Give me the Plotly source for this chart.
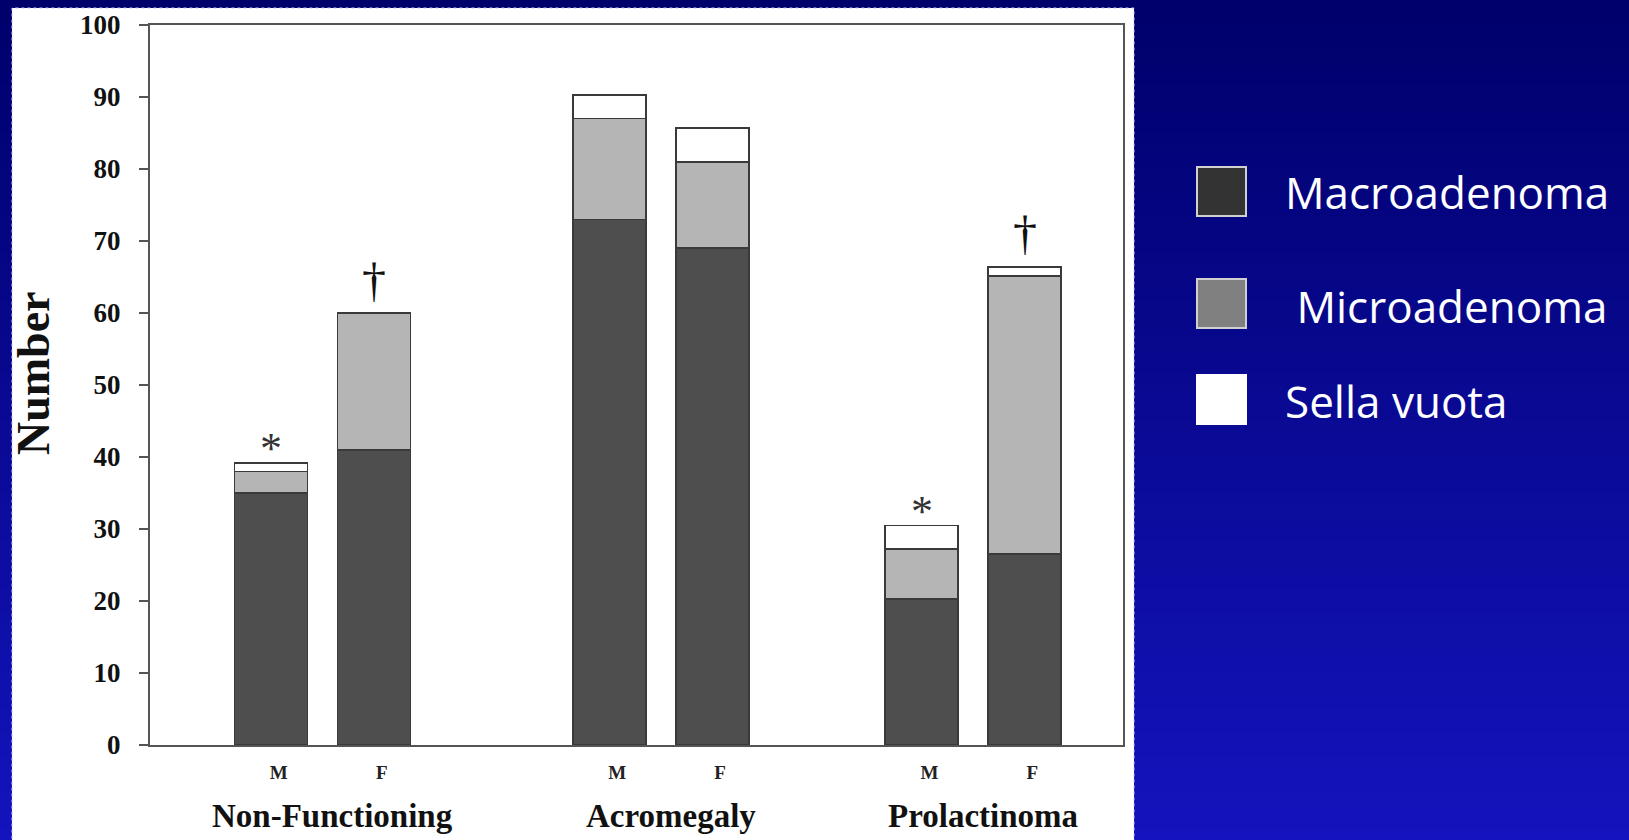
import plotly.graph_objects as go

# ---------------- data ----------------
groups = ["Non-Functioning", "Acromegaly", "Prolactinoma"]
sexes = ["M", "F"]
macro = [35.0, 41.0, 73.0, 69.0, 20.3, 26.5]
micro = [3.0, 19.0, 14.0, 12.0, 6.9, 38.6]
sella = [1.2, 0.0, 3.3, 4.7, 3.3, 1.3]
marks = ["*", "\u2020", "", "", "*", "\u2020"]
y_ticks = [0, 10, 20, 30, 40, 50, 60, 70, 80, 90, 100]
legend_names = ["Macroadenoma", " Microadenoma", "Sella vuota"]

# ---------------- layout helpers ----------------
W, H = 1629, 840
group_centres = [1.773, 5.25, 8.46]
pair_off = 0.529
bar_w = 0.75

xs = []
xlabels = []
for gc in group_centres:
    for k, s in enumerate(sexes):
        xs.append(gc + (2 * k - 1) * pair_off)
        xlabels.append(s)

fill_macro = "#4e4e4e"
fill_micro = "#b5b5b5"
fill_sella = "#ffffff"
edge = "#3a3a3a"

fig = go.Figure()
for vals, col, name in [(macro, fill_macro, "Macroadenoma"),
                        (micro, fill_micro, "Microadenoma"),
                        (sella, fill_sella, "Sella vuota")]:
    fig.add_trace(go.Bar(
        x=xs, y=vals, width=bar_w, name=name,
        marker=dict(color=col, line=dict(color=edge, width=1.6)),
        showlegend=False, hoverinfo="skip"))

# ---------------- background (gradient + white panel) ----------------
shapes = []
n = 70
c0 = (0, 0, 108)
c1 = (20, 20, 190)
for i in range(n):
    t = i / (n - 1)
    r = int(c0[0] + (c1[0] - c0[0]) * t)
    g = int(c0[1] + (c1[1] - c0[1]) * t)
    b = int(c0[2] + (c1[2] - c0[2]) * t)
    shapes.append(dict(type="rect", xref="paper", yref="paper",
                       x0=0, x1=1, y0=1 - (i + 1) / n - 0.002, y1=1 - i / n,
                       fillcolor=f"rgb({r},{g},{b})", line=dict(width=0),
                       layer="below"))
# white panel
shapes.append(dict(type="rect", xref="paper", yref="paper",
                   x0=12 / W, x1=1134 / W, y0=-0.01, y1=1 - 8 / H,
                   fillcolor="white", line=dict(color="#c8c8f0", width=1, dash="dot"),
                   layer="below"))

# ---------------- legend (manual) ----------------
leg_boxes = [(167, 216, "#333333", "#d0d0d0"),
             (279, 328, "#808080", "#d0d0d0"),
             (375, 424, "#ffffff", "#ffffff")]
leg_text_x = [1283, 1283, 1283]
leg_text_y = [192, 306, 401]
annotations = []
for (yt, yb, fc, lc), name, tx, ty in zip(leg_boxes, legend_names, leg_text_x, leg_text_y):
    shapes.append(dict(type="rect", xref="paper", yref="paper",
                       x0=1197 / W, x1=1246 / W, y0=1 - yb / H, y1=1 - yt / H,
                       fillcolor=fc, line=dict(color=lc, width=2)))
    annotations.append(dict(xref="paper", yref="paper", x=tx / W, y=1 - ty / H,
                            text=name.replace(" ", "&nbsp;", 1) if name.startswith(" ") else name,
                            showarrow=False, xanchor="left", yanchor="middle",
                            font=dict(family="Open Sans", size=44, color="white")))

# significance marks
for x, m, a, b, c in zip(xs, marks, macro, micro, sella):
    if not m:
        continue
    top = a + b + c
    if m == "*":
        annotations.append(dict(x=x, y=top, xref="x", yref="y", text=m, showarrow=False,
                                yanchor="middle", yshift=14,
                                font=dict(family="Liberation Serif", size=44, color="#333333")))
    else:
        annotations.append(dict(x=x, y=top, xref="x", yref="y", text=m, showarrow=False,
                                yanchor="middle", yshift=34,
                                font=dict(family="Liberation Serif", size=48, color="#111111")))

# group labels
for gc, gname in zip(group_centres, groups):
    annotations.append(dict(x=gc + 0.1, y=1 - 816 / H, xref="x", yref="paper", text="<b>" + gname + "</b>",
                            showarrow=False, yanchor="middle",
                            font=dict(family="Liberation Serif", size=33, color="#111111")))

# "Number" axis title
annotations.append(dict(x=33 / W, y=1 - 373 / H, xref="paper", yref="paper",
                        text="<b>Number</b>", textangle=-90, showarrow=False,
                        xanchor="center", yanchor="middle",
                        font=dict(family="Liberation Serif", size=46, color="#111111")))

fig.update_layout(
    width=W, height=H,
    margin=dict(l=0, r=0, t=0, b=0, autoexpand=False),
    paper_bgcolor="#00006c",
    plot_bgcolor="rgba(0,0,0,0)",
    barmode="stack",
    shapes=shapes,
    annotations=annotations,
    xaxis=dict(domain=[150 / W, 1123 / W], range=[0, 10], automargin=False,
               tickvals=[x + 0.08 for x in xs], ticktext=["<b>" + t + "</b>" for t in xlabels],
               tickfont=dict(family="Liberation Serif", size=19, color="#222222"),
               ticks="", ticklabelstandoff=9,
               showline=True, linecolor="#555555", linewidth=2, mirror=True,
               showgrid=False, zeroline=False, fixedrange=True),
    yaxis=dict(domain=[1 - 745 / H, 1 - 25 / H], range=[0, 100], automargin=False,
               tickvals=y_ticks, ticktext=["<b>%d</b>" % v for v in y_ticks],
               tickfont=dict(family="Liberation Serif", size=27, color="#111111"),
               ticks="outside", ticklen=9, tickwidth=2, tickcolor="#555555",
               ticklabelstandoff=13,
               showline=True, linecolor="#555555", linewidth=2, mirror=True,
               showgrid=False, zeroline=False, fixedrange=True),
)

fig.write_html("out.html", config={"displayModeBar": False},
               post_script="document.body.style.margin='0';document.body.style.overflow='hidden';")
